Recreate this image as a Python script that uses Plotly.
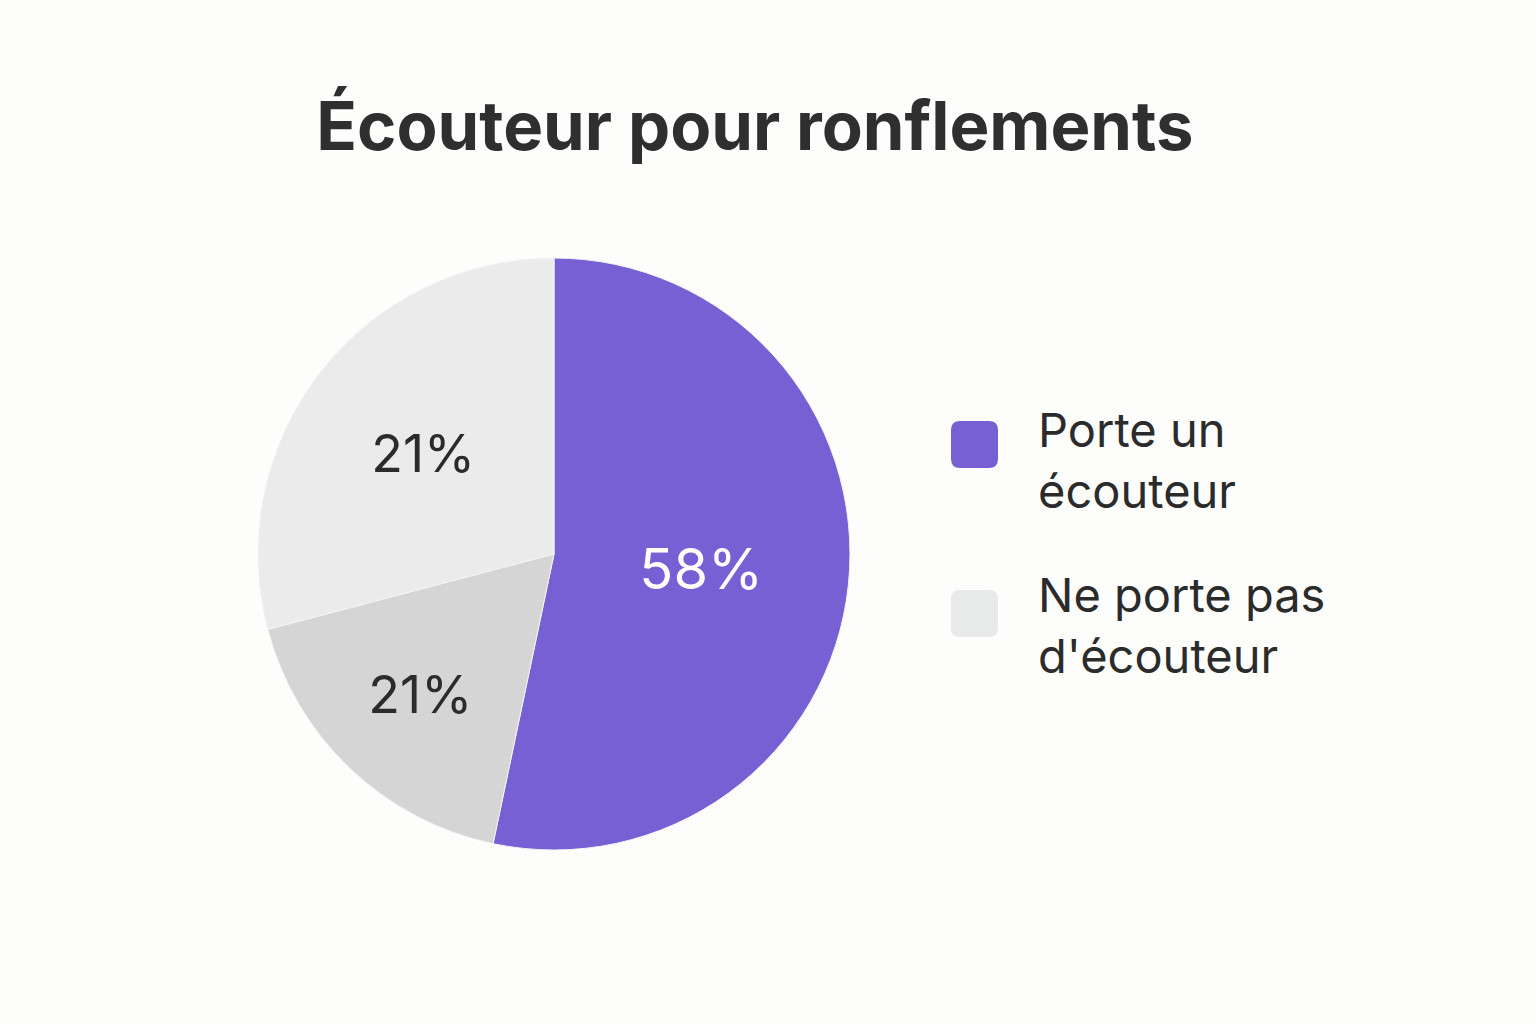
import plotly.graph_objects as go

# Data
slice_labels = ["Porte un écouteur", "Ne porte pas d'écouteur (a)", "Ne porte pas d'écouteur (b)"]
slice_values = [53.3, 17.6, 29.1]
slice_text = ["58%", "21%", "21%"]
slice_colors = ["#775FD4", "#D5D5D5", "#EBEBEC"]
text_colors = ["#FFFFFF", "#2B2B2B", "#2B2B2B"]
text_sizes = [56, 52, 52]

legend_labels = ["Porte un<br>écouteur", "Ne porte pas<br>d'écouteur"]
legend_colors = ["#775FD4", "#E8E9E9"]

title_text = "Écouteur pour ronflements"

W, H = 1536, 1024
BG = "#FDFDFC"
FONT = "Inter"

cx, cy, r = 554, 554, 296

fig = go.Figure()
fig.add_trace(go.Pie(
    labels=slice_labels,
    values=slice_values,
    text=slice_text,
    textinfo="text",
    textposition="inside",
    insidetextorientation="horizontal",
    sort=False,
    direction="clockwise",
    rotation=0,
    marker=dict(colors=slice_colors, line=dict(color="#F4F4F4", width=1)),
    textfont=dict(family=FONT, size=text_sizes, color=text_colors),
    showlegend=False,
    hoverinfo="label+text",
    domain=dict(x=[(cx - r) / W, (cx + r) / W], y=[(H - cy - r) / H, (H - cy + r) / H]),
))

# Legend drawn with shapes + annotations
sq = 47
sq_x0 = 951
sq_tops = [421, 590]
text_centers = [460, 625]
rad = 9
for color, top in zip(legend_colors, sq_tops):
    x0, x1 = sq_x0 / W, (sq_x0 + sq) / W
    y1, y0 = (H - top) / H, (H - top - sq) / H
    rx, ry = rad / W, rad / H
    path = (f"M {x0+rx},{y0} L {x1-rx},{y0} Q {x1},{y0} {x1},{y0+ry} "
            f"L {x1},{y1-ry} Q {x1},{y1} {x1-rx},{y1} L {x0+rx},{y1} "
            f"Q {x0},{y1} {x0},{y1-ry} L {x0},{y0+ry} Q {x0},{y0} {x0+rx},{y0} Z")
    fig.add_shape(type="path", xref="paper", yref="paper", path=path,
                  fillcolor=color, line=dict(width=0))

for lab, yc in zip(legend_labels, text_centers):
    fig.add_annotation(text=lab, xref="paper", yref="paper",
                       x=1036 / W, y=(H - yc) / H, xanchor="left", yanchor="middle",
                       align="left", showarrow=False,
                       font=dict(family=FONT, size=47, color="#2B2B2B"))

fig.update_layout(
    width=W, height=H,
    margin=dict(l=0, r=0, t=0, b=0),
    paper_bgcolor=BG, plot_bgcolor=BG,
    title=dict(text=f"<b>{title_text}</b>", x=755 / W, xanchor="center",
               y=(H - 127) / H, yanchor="middle",
               font=dict(family=FONT, size=67, color="#2F2F2F")),
)

fig.write_html("out.html")
